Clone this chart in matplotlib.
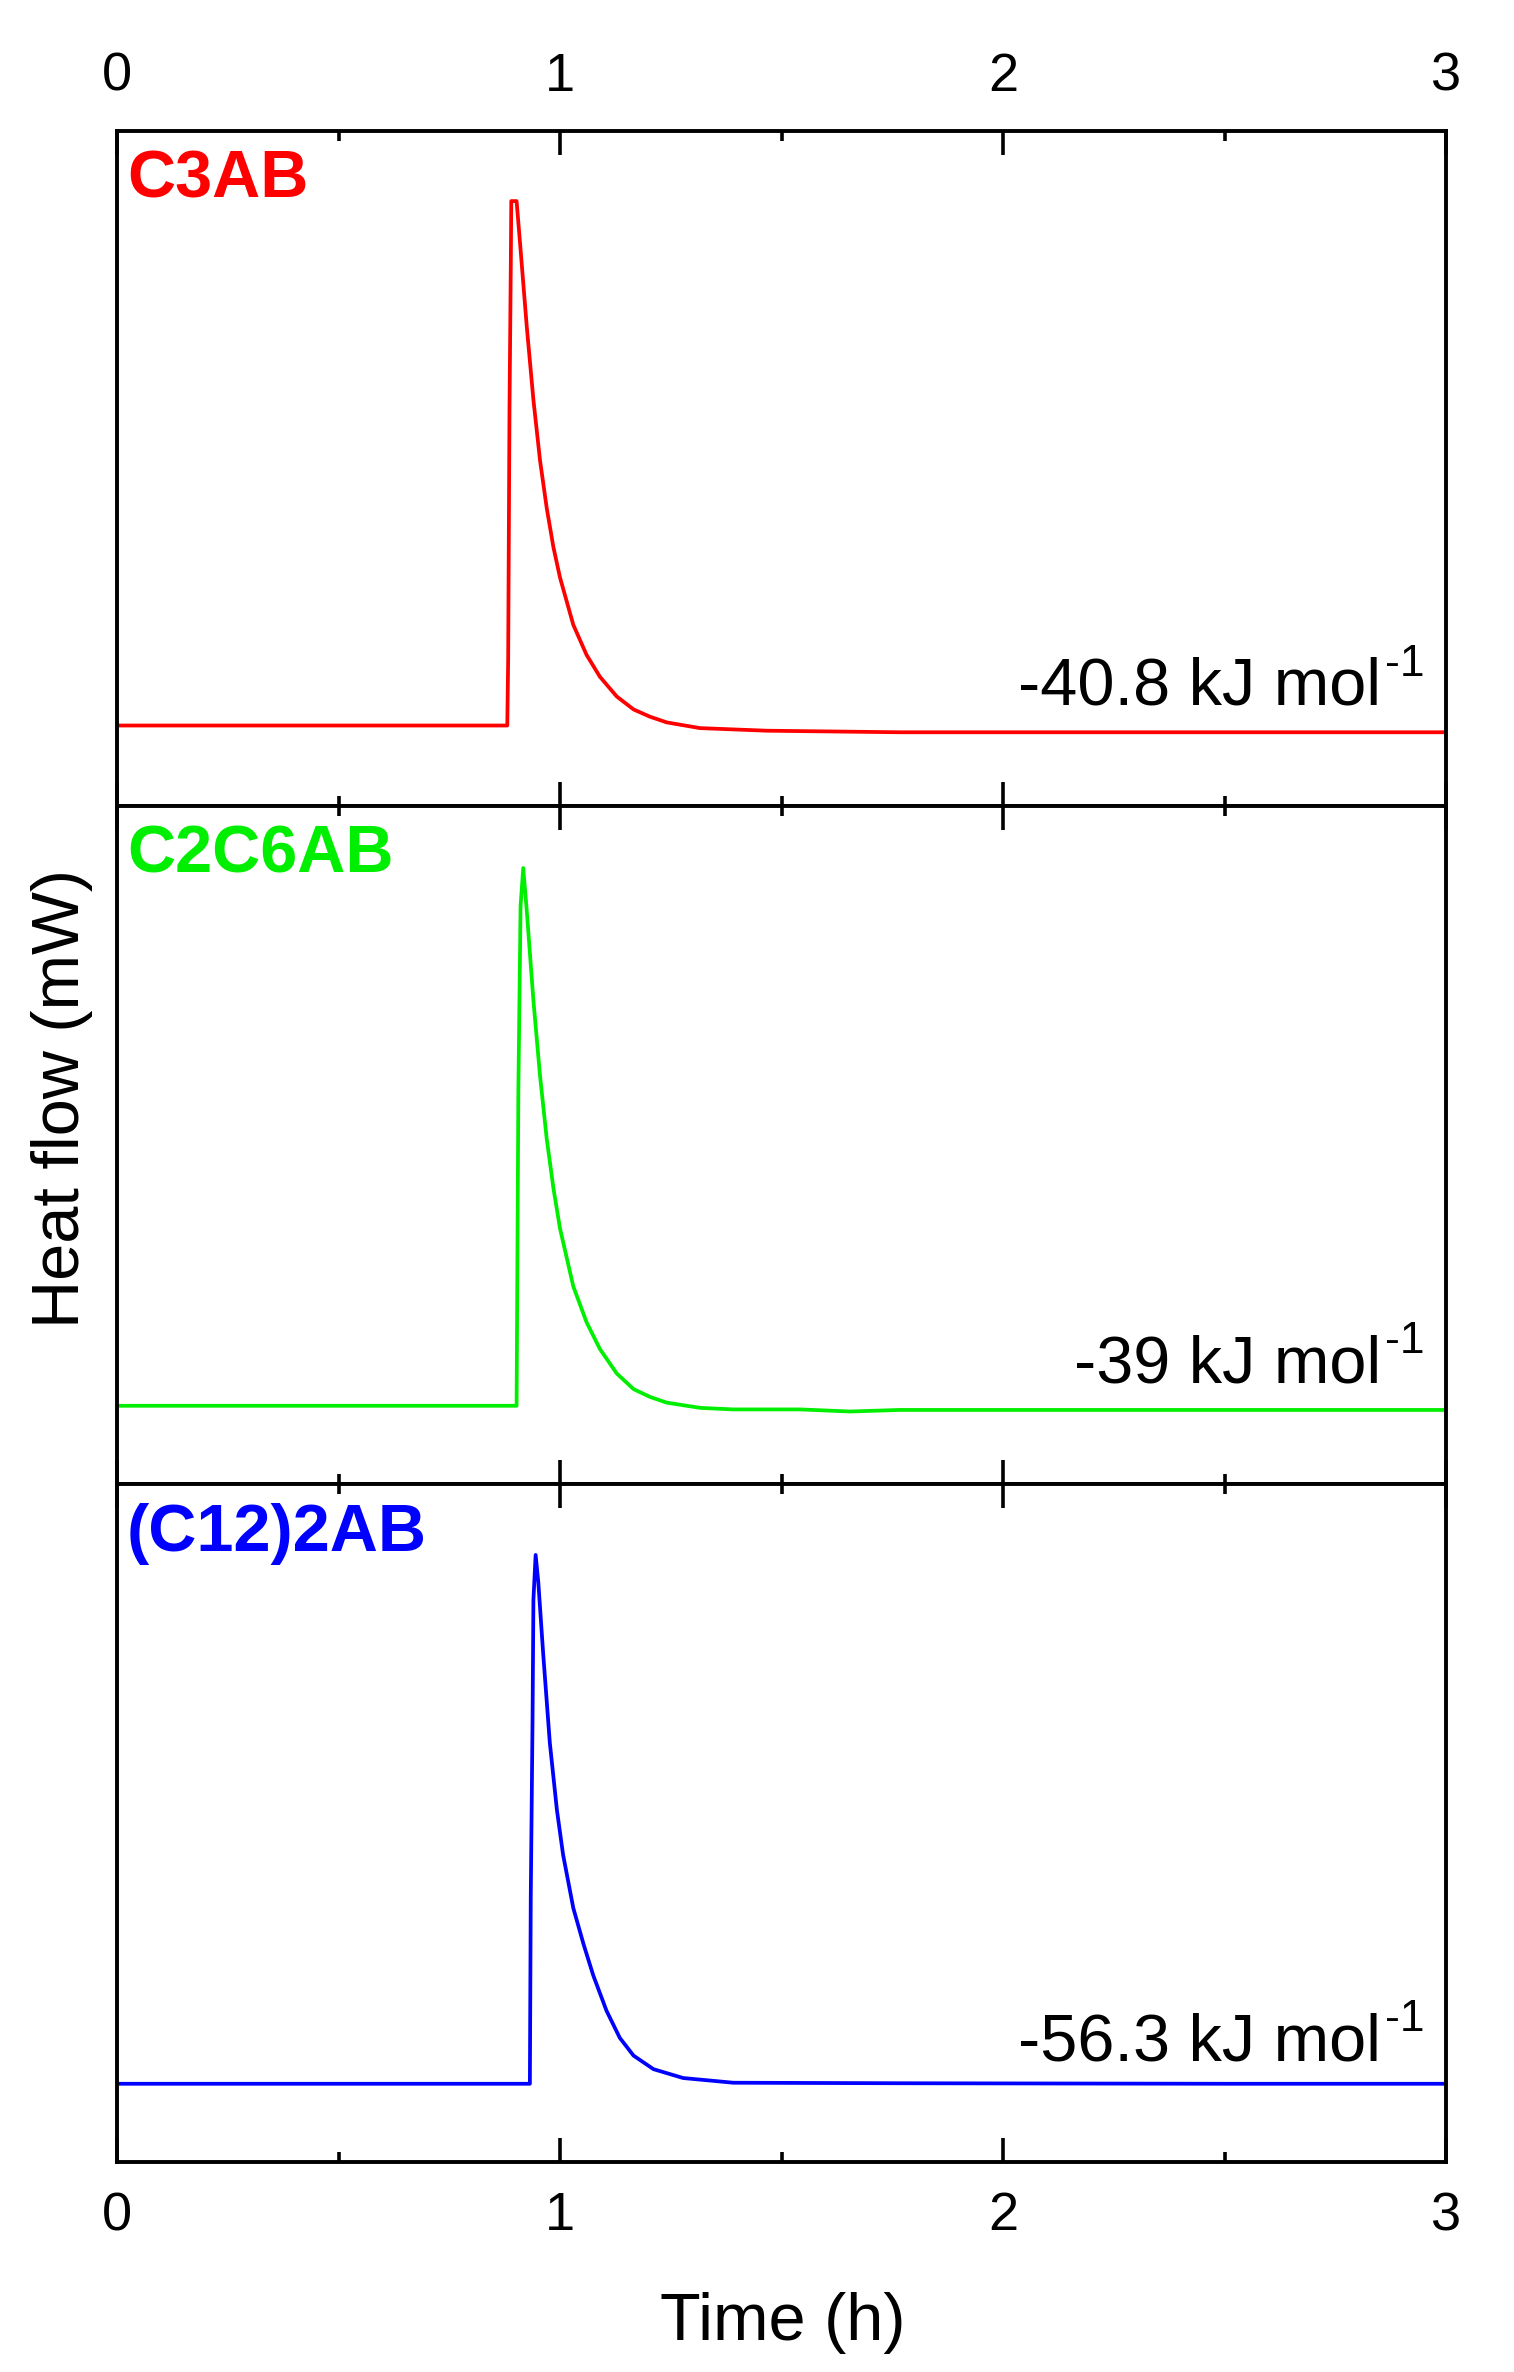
import matplotlib
matplotlib.use("Agg")
import matplotlib.pyplot as plt
from matplotlib.ticker import MultipleLocator
from matplotlib.transforms import offset_copy

plt.rcParams['font.family'] = ['Liberation Sans', 'DejaVu Sans']

# ---- data (time in h, heat flow in arbitrary mW units) ----
labels = ["C3AB", "C2C6AB", "(C12)2AB"]
colors = ["#FF0000", "#00EE00", "#0000FF"]
enthalpies = ["-40.8 kJ mol", "-39 kJ mol", "-56.3 kJ mol"]

t_c3ab = [0, 0.5, 0.881, 0.883, 0.886, 0.889, 0.890, 0.902, 0.910, 0.925, 0.940,
          0.955, 0.970, 0.985, 1.000, 1.030, 1.060, 1.090, 1.128, 1.166, 1.203,
          1.241, 1.316, 1.467, 1.767, 2.5, 3.0]
hf_c3ab = [0.005, 0.005, 0.005, 0.132, 0.615, 0.898, 1.015, 1.015, 0.932, 0.773,
           0.632, 0.515, 0.424, 0.349, 0.290, 0.199, 0.141, 0.099, 0.061, 0.036,
           0.022, 0.011, 0.000, -0.005, -0.008, -0.008, -0.008]

t_c2c6ab = [0, 0.5, 0.902, 0.906, 0.911, 0.917, 0.925, 0.940, 0.955, 0.970, 0.985,
            1.000, 1.030, 1.060, 1.090, 1.128, 1.166, 1.203, 1.241, 1.316, 1.391,
            1.542, 1.655, 1.767, 2.5, 3.0]
hf_c2c6ab = [0.0, 0.0, 0.0, 0.603, 0.958, 1.031, 0.949, 0.777, 0.632, 0.512, 0.418,
             0.340, 0.229, 0.160, 0.109, 0.062, 0.032, 0.017, 0.006, -0.004, -0.007,
             -0.007, -0.011, -0.008, -0.008, -0.008]

t_c12ab = [0, 0.5, 0.932, 0.934, 0.938, 0.940, 0.945, 0.951, 0.962, 0.977, 0.993,
           1.007, 1.030, 1.053, 1.075, 1.105, 1.135, 1.166, 1.211, 1.278, 1.391,
           1.767, 2.5, 3.0]
hf_c12ab = [0.0, 0.0, 0.0, 0.358, 0.697, 0.928, 1.014, 0.962, 0.825, 0.654, 0.525,
            0.439, 0.337, 0.268, 0.208, 0.140, 0.088, 0.054, 0.028, 0.011, 0.002,
            0.001, 0.0, 0.0]

times = [t_c3ab, t_c2c6ab, t_c12ab]
flows = [hf_c3ab, hf_c2c6ab, hf_c12ab]
xticks = [0, 1, 2, 3]

# ---- figure ----
W, H = 1514, 2372
fig = plt.figure(figsize=(W / 100, H / 100), dpi=100)

left = 117 / W
width = (1446 - 117) / W
edges = [131, 806, 1484, 2162]
axes = []
for i in range(3):
    top_px, bot_px = edges[i], edges[i + 1]
    ax = fig.add_axes([left, 1 - bot_px / H, width, (bot_px - top_px) / H])
    axes.append(ax)

renderer = fig.canvas.get_renderer()

for i, ax in enumerate(axes):
    ax.plot(times[i], flows[i], color=colors[i], lw=2.7, solid_joinstyle='round')
    ax.set_xlim(0, 3)
    ax.set_ylim(-0.15, 1.15)
    ax.set_yticks([])
    ax.set_xticks(xticks)
    ax.xaxis.set_minor_locator(MultipleLocator(0.5))
    for sp in ax.spines.values():
        sp.set_linewidth(2.8)
    ax.tick_params(axis='x', which='major', direction='in', length=17, width=2.6,
                   top=True, bottom=True, labelsize=39, pad=21,
                   labeltop=(i == 0), labelbottom=(i == 2))
    ax.tick_params(axis='x', which='minor', direction='in', length=7.5, width=2.6,
                   top=True, bottom=True)
    ax.text(0.0075, 0.972, labels[i], transform=ax.transAxes, ha='left', va='top',
            fontsize=48, fontweight='bold', color=colors[i])

    # enthalpy annotation with superscript
    xr, yb = 0.984, 0.150
    sup = ax.text(xr, yb, "-1",
                  transform=offset_copy(ax.transAxes, fig=fig, x=0, y=29, units='dots'),
                  ha='right', va='baseline', fontsize=32)
    w = sup.get_window_extent(renderer).width
    ax.text(xr, yb, enthalpies[i],
            transform=offset_copy(ax.transAxes, fig=fig, x=-w - 4, y=0, units='dots'),
            ha='right', va='baseline', fontsize=48)

fig.text(62 / W, 1 - 1098 / H, "Heat flow (mW)", rotation=90, ha='center',
         va='center', fontsize=48)
fig.text(783 / W, 1 - 2340 / H, "Time (h)", ha='center', va='baseline', fontsize=48)

fig.savefig("out.png", dpi=100, facecolor='white')
